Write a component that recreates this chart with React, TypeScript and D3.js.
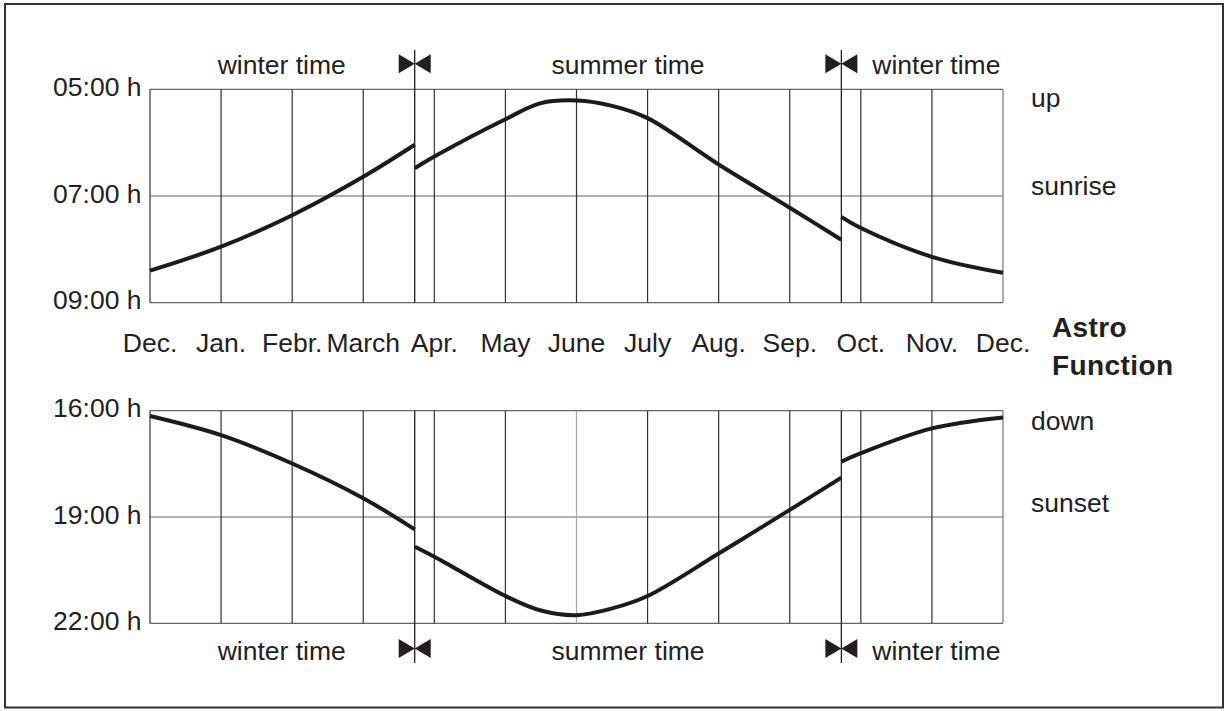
import React from "react";
import * as d3 from "d3";

// ---- data ----
const monthLabels = ["Dec.", "Jan.", "Febr.", "March", "Apr.", "May", "June", "July", "Aug.", "Sep.", "Oct.", "Nov.", "Dec."];
const dstSwitches = [3.724, 9.726]; // month-index positions of the clock changes
const sunriseTicks = [5, 7, 9];
const sunsetTicks = [16, 19, 22];
const fmtHour = (h: number) => `${String(h).padStart(2, "0")}:00 h`;

const sunriseWinter1: [number, number][] = [[0, 8.4], [1, 7.95], [2, 7.36], [3, 6.64], [3.724, 6.04]];
const sunriseSummer: [number, number][] = [[3.724, 6.48], [4, 6.26], [5, 5.56], [5.5, 5.26], [6, 5.21], [6.5, 5.31], [7, 5.54], [8, 6.41], [9, 7.22], [9.726, 7.82]];
const sunriseWinter2: [number, number][] = [[9.726, 7.39], [10, 7.6], [11, 8.14], [12, 8.44]];

const sunsetWinter1: [number, number][] = [[0, 16.15], [1, 16.69], [2, 17.49], [3, 18.47], [3.724, 19.35]];
const sunsetSummer: [number, number][] = [[3.724, 19.84], [4, 20.12], [5, 21.23], [5.5, 21.64], [6, 21.77], [6.5, 21.58], [7, 21.23], [8, 20.03], [9, 18.8], [9.726, 17.89]];
const sunsetWinter2: [number, number][] = [[9.726, 17.44], [10, 17.2], [11, 16.5], [12, 16.19]];

const periodLabels = ["winter time", "summer time", "winter time"];
const topRightLabels = ["up", "sunrise"];
const bottomRightLabels = ["down", "sunset"];
const titleLines = ["Astro", "Function"];

// ---- layout ----
const W = 1229, H = 711;
const FONT = "'Liberation Sans', Arial, Helvetica, sans-serif";
const FS = 26.5;
const TXT = "#231f20";

export default function App() {
  const x = d3.scaleLinear().domain([0, 12]).range([150, 1003]);
  const yTop = d3.scaleLinear().domain([5, 9]).range([89.3, 302.7]);
  const yBot = d3.scaleLinear().domain([16, 22]).range([410.7, 623.3]);

  const mkLine = (y: d3.ScaleLinear<number, number>) =>
    d3.line<[number, number]>().x(d => x(d[0])).y(d => y(d[1])).curve(d3.curveCatmullRom.alpha(0.5));
  const lTop = mkLine(yTop);
  const lBot = mkLine(yBot);

  const months = d3.range(0, 13);

  const bowtie = (cx: number, cy: number) => {
    const w = 16, h = 9.5;
    return `M${cx - w},${cy - h}L${cx},${cy}L${cx - w},${cy + h}Z M${cx + w},${cy - h}L${cx},${cy}L${cx + w},${cy + h}Z`;
  };

  const bounds = [0, ...dstSwitches, 12];
  const periodCenters = periodLabels.map((_, i) => {
    if (i === 0) return x(bounds[1]) - 133;
    if (i === periodLabels.length - 1) return x(bounds[i]) + 95;
    return (x(bounds[i]) + x(bounds[i + 1])) / 2;
  });

  const grid = (y: d3.ScaleLinear<number, number>, ticks: number[], light: number | null) => (
    <g>
      {ticks.map(t => (
        <line key={"h" + t} x1={x(0)} x2={x(12)} y1={y(t)} y2={y(t)} stroke="#666" strokeWidth={1.2} />
      ))}
      {months.map(m => (
        <line key={"v" + m} x1={x(m)} x2={x(m)} y1={y(ticks[0])} y2={y(ticks[ticks.length - 1])}
          stroke={m === light ? "#aaa" : m === 12 ? "#777" : "#333"} strokeWidth={1.2} />
      ))}
      {ticks.map(t => (
        <text key={"t" + t} x={141.5} y={y(t) + 6.5} textAnchor="end" fontSize={FS} fill={TXT}>{fmtHour(t)}</text>
      ))}
    </g>
  );

  const curveStyle = { fill: "none", stroke: "#1d1a1b", strokeWidth: 4 } as const;

  return (
    <svg width={W} height={H} style={{ position: "absolute", left: 0, top: 0, background: "#fff" }} fontFamily={FONT}>
      <rect x={0} y={0} width={W} height={H} fill="#fff" />
      <rect x={5} y={4} width={1218} height={703.5} fill="none" stroke="#333" strokeWidth={2} />

      {/* top panel */}
      {grid(yTop, sunriseTicks, null)}
      {dstSwitches.map(s => (
        <g key={"ts" + s}>
          <line x1={x(s)} x2={x(s)} y1={50} y2={yTop(9)} stroke="#222" strokeWidth={1.3} />
          <path d={bowtie(x(s), 63.7)} fill="#231f20" />
        </g>
      ))}
      {periodLabels.map((p, i) => (
        <text key={"pt" + i} x={periodCenters[i]} y={74} textAnchor="middle" fontSize={FS} fill={TXT}>{p}</text>
      ))}
      <path d={lTop(sunriseWinter1) || ""} {...curveStyle} />
      <path d={lTop(sunriseSummer) || ""} {...curveStyle} />
      <path d={lTop(sunriseWinter2) || ""} {...curveStyle} />
      {topRightLabels.map((t, i) => (
        <text key={t} x={1031} y={i === 0 ? 107 : 195} fontSize={FS} fill={TXT}>{t}</text>
      ))}

      {/* month labels */}
      {monthLabels.map((m, i) => (
        <text key={"m" + i} x={x(i)} y={352} textAnchor="middle" fontSize={FS} fill={TXT}>{m}</text>
      ))}
      {titleLines.map((t, i) => (
        <text key={t} x={1052} y={337 + i * 38} fontSize={FS + 1.5} fontWeight="bold" letterSpacing={0.4} fill={TXT}>{t}</text>
      ))}

      {/* bottom panel */}
      {grid(yBot, sunsetTicks, 6)}
      {dstSwitches.map(s => (
        <g key={"bs" + s}>
          <line x1={x(s)} x2={x(s)} y1={yBot(16)} y2={663} stroke="#222" strokeWidth={1.3} />
          <path d={bowtie(x(s), 648.5)} fill="#231f20" />
        </g>
      ))}
      {periodLabels.map((p, i) => (
        <text key={"pb" + i} x={periodCenters[i]} y={660} textAnchor="middle" fontSize={FS} fill={TXT}>{p}</text>
      ))}
      <path d={lBot(sunsetWinter1) || ""} {...curveStyle} />
      <path d={lBot(sunsetSummer) || ""} {...curveStyle} />
      <path d={lBot(sunsetWinter2) || ""} {...curveStyle} />
      {bottomRightLabels.map((t, i) => (
        <text key={t} x={1031} y={i === 0 ? 430 : 512} fontSize={FS} fill={TXT}>{t}</text>
      ))}
    </svg>
  );
}
